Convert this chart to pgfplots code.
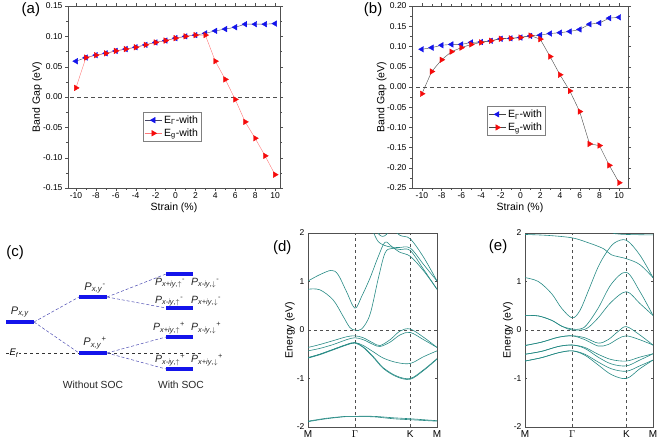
\documentclass[border=0pt]{standalone}
\usepackage{pgfplots}
\pgfplotsset{compat=1.18}
\usepackage{fontspec}
\setmainfont{Liberation Sans}
\definecolor{band}{RGB}{38,138,132}
\definecolor{mblue}{RGB}{20,20,235}
\definecolor{mred}{RGB}{245,10,10}
\definecolor{frame}{RGB}{80,80,80}
\definecolor{lineA}{RGB}{70,70,100}
\definecolor{lineB}{RGB}{255,120,120}
\definecolor{lineG}{RGB}{70,70,70}
\begin{document}
\begin{tikzpicture}
\useasboundingbox (0,0) rectangle (661pt,442pt);
\pgfplotsset{
  common/.style={scale only axis, anchor=south west, axis line style={frame}, tick style={frame},
    /pgf/number format/assume math mode=true,
    tick label style={font=\fontsize{8.5}{10}\selectfont},
    label style={font=\fontsize{10.5}{12}\selectfont},
    title style={font=\fontsize{15}{18}\selectfont, anchor=center}},
  gapstyle/.style={common, tick align=outside, major tick length=3pt, minor tick length=1.8pt,
    xtick={-10,-8,-6,-4,-2,0,2,4,6,8,10}, minor x tick num=1, minor y tick num=1,
    xticklabel style={yshift=1.5pt}, yticklabel style={xshift=1pt},
    xlabel={Strain (\%)}, ylabel={Band Gap (eV)},
    yticklabel style={/pgf/number format/fixed, /pgf/number format/fixed zerofill, /pgf/number format/precision=2},
    legend cell align=left,
    legend style={draw=gray, font=\fontsize{10.5}{12}\selectfont, anchor=north west, inner sep=1.5pt, row sep=0pt}},
  bandstyle/.style={common, xmin=0, xmax=385, ymin=-2, ymax=2, ytick={-2,-1,0,1,2},
    xticklabels={M,$\Gamma$,K,M}, xticklabel style={font=\fontsize{10}{12}\selectfont},
    ylabel={Energy (eV)}, major tick length=2pt, tick align=inside},
  bd/.style={band, line width=0.6pt, smooth, tension=0.55},
  zl/.style={frame, line width=0.7pt, dash pattern=on 4pt off 3pt},
}
% ---------------- (a) ----------------
\begin{axis}[gapstyle, at={(68pt,254pt)}, width=212pt, height=182pt,
  xmin=-10.8, xmax=10.5, ymin=-0.15, ymax=0.15,
  ytick={-0.15,-0.10,-0.05,0,0.05,0.10,0.15},
  xlabel style={at={(axis description cs:0.5,-0.11)},anchor=center},
  ylabel style={at={(axis description cs:-0.145,0.5)},anchor=center},
  legend style={at={(0.354,0.418)}},
  title={(a)}, title style={at={(axis description cs:-0.175,0.945)}}]
\addplot[zl, forget plot] coordinates {(-12,0) (12,0)};
\addplot[lineA, mark=triangle*, mark size=3.2pt, mark options={mblue, rotate=90, solid}] coordinates {
(-10,0.059) (-9,0.065) (-8,0.069) (-7,0.072) (-6,0.076) (-5,0.079) (-4,0.082) (-3,0.086) (-2,0.090) (-1,0.093)
(0,0.097) (1,0.100) (2,0.102) (3,0.105) (4,0.109) (5,0.112) (6,0.115) (7,0.120) (8,0.120) (9,0.120) (10,0.121)};
\addlegendentry{E\textsubscript{Γ}-with}
\addplot[lineB, mark=triangle*, mark size=3.2pt, mark options={mred, rotate=-90, solid}] coordinates {
(-10,0.015) (-9,0.065) (-8,0.069) (-7,0.072) (-6,0.076) (-5,0.079) (-4,0.082) (-3,0.086) (-2,0.090) (-1,0.093)
(0,0.097) (1,0.100) (2,0.102) (3,0.102) (4,0.059) (5,0.029) (6,-0.004) (7,-0.041) (8,-0.068) (9,-0.097) (10,-0.128)};
\addlegendentry{E\textsubscript{g}-with}
\end{axis}
% ---------------- (b) ----------------
\begin{axis}[gapstyle, at={(412pt,254pt)}, width=216pt, height=182pt,
  xmin=-11.0, xmax=10.9, ymin=-0.25, ymax=0.20,
  ytick={-0.25,-0.20,-0.15,-0.10,-0.05,0,0.05,0.10,0.15,0.20},
  xlabel style={at={(axis description cs:0.5,-0.11)},anchor=center},
  ylabel style={at={(axis description cs:-0.14,0.5)},anchor=center},
  legend style={at={(0.347,0.45)}},
  title={(b)}, title style={at={(axis description cs:-0.18,0.945)}}]
\addplot[zl, forget plot] coordinates {(-12,0) (12,0)};
\addplot[lineG, mark=triangle*, mark size=3.2pt, mark options={mblue, rotate=90, solid}] coordinates {
(-10,0.093) (-9,0.097) (-8,0.103) (-7,0.105) (-6,0.105) (-5,0.110) (-4,0.111) (-3,0.114) (-2,0.119) (-1,0.120)
(0,0.122) (1,0.126) (2,0.128) (3,0.132) (4,0.134) (5,0.137) (6,0.142) (7,0.155) (8,0.158) (9,0.170) (10,0.172)};
\addlegendentry{E\textsubscript{Γ}-with}
\addplot[lineG, mark=triangle*, mark size=3.2pt, mark options={mred, rotate=-90, solid}] coordinates {
(-10,-0.017) (-9,0.038) (-8,0.067) (-7,0.087) (-6,0.097) (-5,0.105) (-4,0.110) (-3,0.114) (-2,0.119) (-1,0.120)
(0,0.122) (1,0.127) (2,0.118) (3,0.075) (4,0.030) (5,-0.010) (6,-0.061) (7,-0.141) (8,-0.145) (9,-0.194) (10,-0.237)};
\addlegendentry{E\textsubscript{g}-with}
\end{axis}
% ---------------- (c) ----------------
\begin{axis}[scale only axis, anchor=south west, at={(0pt,2pt)}, width=230pt, height=200pt,
  xmin=0, xmax=230, ymin=240, ymax=440, y dir=reverse, axis lines=none, clip=false]
\addplot[black!80, dashed, line width=0.6pt] coordinates {(6,353) (202,353)};
\addplot[gray!60!blue, densely dashed, line width=0.5pt] coordinates {(34,322) (79,297)};
\addplot[gray!60!blue, densely dashed, line width=0.5pt] coordinates {(34,322) (79,353)};
\addplot[gray!60!blue, densely dashed, line width=0.5pt] coordinates {(107,297) (166,274)};
\addplot[gray!60!blue, densely dashed, line width=0.5pt] coordinates {(107,297) (166,308)};
\addplot[gray!60!blue, densely dashed, line width=0.5pt] coordinates {(107,353) (166,337)};
\addplot[gray!60!blue, densely dashed, line width=0.5pt] coordinates {(107,353) (166,369)};
\addplot[mblue, line width=3.5pt] coordinates {(6,322) (34,322)};
\addplot[mblue, line width=3.5pt] coordinates {(79,297) (107,297)};
\addplot[mblue, line width=3.5pt] coordinates {(79,353) (107,353)};
\addplot[mblue, line width=3.5pt] coordinates {(166,274) (193,274)};
\addplot[mblue, line width=3.5pt] coordinates {(166,308) (193,308)};
\addplot[mblue, line width=3.5pt] coordinates {(166,337) (193,337)};
\addplot[mblue, line width=3.5pt] coordinates {(166,369) (193,369)};
\node[fill=white, inner sep=1pt, font=\fontsize{9.5}{10}\selectfont] at (14,353) {\textit{E\textsubscript{f}}};
\node[font=\fontsize{15}{18}\selectfont] at (15,253) {(c)};
\begin{scope}[every node/.style={font=\fontsize{11}{13}\selectfont, text=black!85}]
\node at (20,312) {\textit{P}\textsubscript{\textit{x,y}}};
\node at (95,288) {\textit{P}\textsubscript{\textit{x,y}}\textsuperscript{-}};
\node at (95,343) {\textit{P}\textsubscript{\textit{x,y}}\textsuperscript{+}};
\node[font=\fontsize{10.3}{12}\selectfont] at (93,385) {Without SOC};
\node[font=\fontsize{10.3}{12}\selectfont] at (181,385) {With SOC};
\end{scope}
\begin{scope}[every node/.style={font=\fontsize{10.5}{12}\selectfont, text=black!85, anchor=west, inner sep=0pt}]
\node at (155,283) {\textit{P}\textsubscript{\textit{x+iy},$\uparrow$}\textsuperscript{-}};
\node at (191,283) {\textit{P}\textsubscript{\textit{x-iy},$\downarrow$}\textsuperscript{-}};
\node at (155,301) {\textit{P}\textsubscript{\textit{x-iy},$\uparrow$}\textsuperscript{-}};
\node at (191,301) {\textit{P}\textsubscript{\textit{x+iy},$\downarrow$}\textsuperscript{-}};
\node at (153,328) {\textit{P}\textsubscript{\textit{x+iy},$\uparrow$}\textsuperscript{+}};
\node at (191,328) {\textit{P}\textsubscript{\textit{x-iy},$\downarrow$}\textsuperscript{+}};
\node at (155,360) {\textit{P}\textsubscript{\textit{x-iy},$\uparrow$}\textsuperscript{+}};
\node at (191,360) {\textit{P}\textsubscript{\textit{x+iy},$\downarrow$}\textsuperscript{+}};
\end{scope}
\end{axis}
% ---------------- (d) ----------------
\begin{axis}[bandstyle, at={(308pt,15pt)}, width=129pt, height=194pt, xtick={0,140,305,385},
  ylabel style={at={(axis description cs:-0.14,0.5)},anchor=center},
  title={(d)}, title style={at={(axis description cs:-0.2,0.892)}}]
\addplot[frame, dashed] coordinates {(0,0) (385,0)};
\addplot[frame, dashed] coordinates {(140,-2) (140,2)};
\addplot[frame, dashed] coordinates {(305,-2) (305,2)};
\addplot[bd] coordinates {(0,0.84) (35,0.83) (75,0.62) (105,0.28) (125,0.05) (140,0.0) (160,0.02) (185,0.32) (210,1.07) (230,1.59) (250,1.68) (275,1.66) (305,1.64) (345,1.25) (385,0.84)};
\addplot[bd] coordinates {(0,1.01) (35,1.14) (70,1.23) (90,1.14) (115,0.79) (140,0.45) (160,0.69) (185,1.07) (210,1.52) (230,1.81) (250,1.72) (275,1.6) (305,1.52) (345,1.22) (385,0.84)};
\addplot[bd] coordinates {(190,2.1) (210,1.82) (240,1.72) (270,1.70) (305,1.69) (345,1.35) (385,1.01)};
\addplot[bd] coordinates {(250,2.1) (275,1.95) (305,1.88) (345,1.5) (385,1.01)};
\addplot[bd] coordinates {(200,2.1) (212,1.97) (223,1.93) (234,1.97) (246,2.1)};
\addplot[bd] coordinates {(0,-0.36) (35,-0.30) (75,-0.22) (115,-0.14) (140,-0.12) (165,-0.16) (195,-0.27) (215,-0.32) (245,-0.2) (275,-0.02) (305,0.02) (345,-0.15) (385,-0.36)};
\addplot[bd] coordinates {(0,-0.43) (35,-0.38) (75,-0.30) (115,-0.20) (140,-0.16) (165,-0.2) (195,-0.3) (215,-0.34) (245,-0.25) (275,-0.1) (305,-0.05) (345,-0.2) (385,-0.36)};
\addplot[bd] coordinates {(0,-0.57) (35,-0.5) (75,-0.4) (115,-0.3) (140,-0.26) (165,-0.32) (195,-0.45) (225,-0.58) (265,-0.67) (305,-0.69) (345,-0.55) (385,-0.43)};
\addplot[bd] coordinates {(0,-0.57) (35,-0.5) (75,-0.4) (115,-0.3) (140,-0.26) (165,-0.35) (195,-0.55) (225,-0.78) (265,-0.95) (305,-1.0) (345,-0.82) (385,-0.59)};
\addplot[bd] coordinates {(0,-0.58) (35,-0.51) (75,-0.41) (115,-0.31) (140,-0.27) (165,-0.36) (195,-0.565) (225,-0.795) (265,-0.965) (305,-1.015) (345,-0.835) (385,-0.6)};
\addplot[bd] coordinates {(0,-1.88) (55,-1.82) (115,-1.78) (140,-1.78) (195,-1.78) (255,-1.81) (305,-1.83) (385,-1.87)};
\addplot[bd] coordinates {(0,-1.89) (55,-1.83) (115,-1.785) (140,-1.785) (195,-1.79) (255,-1.83) (305,-1.85) (385,-1.88)};
\end{axis}
% ---------------- (e) ----------------
\begin{axis}[bandstyle, at={(525pt,15pt)}, width=128pt, height=194pt, xtick={0,142,305,385},
  ylabel style={at={(axis description cs:-0.133,0.5)},anchor=center},
  title={(e)}, title style={at={(axis description cs:-0.21,0.897)}}]
\addplot[frame, dashed] coordinates {(0,0) (385,0)};
\addplot[frame, dashed] coordinates {(142,-2) (142,2)};
\addplot[frame, dashed] coordinates {(305,-2) (305,2)};
\addplot[bd] coordinates {(0,0.30) (40,0.29) (80,0.2) (110,0.08) (130,0.02) (142,0.0) (170,0.0) (190,0.05) (220,0.25) (260,0.58) (305,0.79) (345,0.55) (385,0.30)};
\addplot[bd] coordinates {(0,0.30) (40,0.29) (80,0.2) (110,0.08) (142,0.02) (165,0.02) (185,0.1) (220,0.45) (260,0.95) (305,1.19) (345,0.8) (385,0.30)};
\addplot[bd] coordinates {(0,1.08) (40,1.0) (80,0.75) (110,0.45) (142,0.25) (165,0.4) (190,0.8) (220,1.3) (245,1.6) (270,1.8) (305,1.85) (345,1.55) (385,1.08)};
\addplot[bd] coordinates {(0,1.97) (70,1.95) (142,1.9) (190,1.8) (235,1.68) (260,1.55) (305,1.47) (345,1.35) (385,1.08)};
\addplot[bd] coordinates {(250,2.1) (265,2.0) (280,1.98) (305,1.97) (385,1.96)};
\addplot[bd] coordinates {(0,-0.32) (50,-0.25) (100,-0.15) (142,-0.12) (180,-0.16) (220,-0.27) (250,-0.2) (280,-0.03) (305,0.07) (345,-0.1) (385,-0.31)};
\addplot[bd] coordinates {(0,-0.32) (50,-0.25) (100,-0.15) (142,-0.12) (180,-0.2) (220,-0.33) (250,-0.3) (280,-0.18) (305,-0.12) (345,-0.2) (385,-0.31)};
\addplot[bd] coordinates {(0,-0.50) (50,-0.44) (100,-0.34) (142,-0.31) (180,-0.36) (220,-0.5) (260,-0.61) (305,-0.64) (345,-0.56) (385,-0.49)};
\addplot[bd] coordinates {(0,-0.50) (50,-0.44) (100,-0.34) (142,-0.31) (180,-0.38) (220,-0.56) (260,-0.70) (305,-0.74) (345,-0.62) (385,-0.49)};
\addplot[bd] coordinates {(0,-0.64) (50,-0.57) (100,-0.47) (142,-0.43) (180,-0.5) (220,-0.66) (260,-0.80) (305,-0.85) (345,-0.74) (385,-0.62)};
\addplot[bd] coordinates {(0,-0.64) (50,-0.57) (100,-0.47) (142,-0.43) (180,-0.52) (220,-0.72) (260,-0.92) (305,-1.0) (345,-0.8) (385,-0.62)};
\end{axis}
\end{tikzpicture}
\end{document}
